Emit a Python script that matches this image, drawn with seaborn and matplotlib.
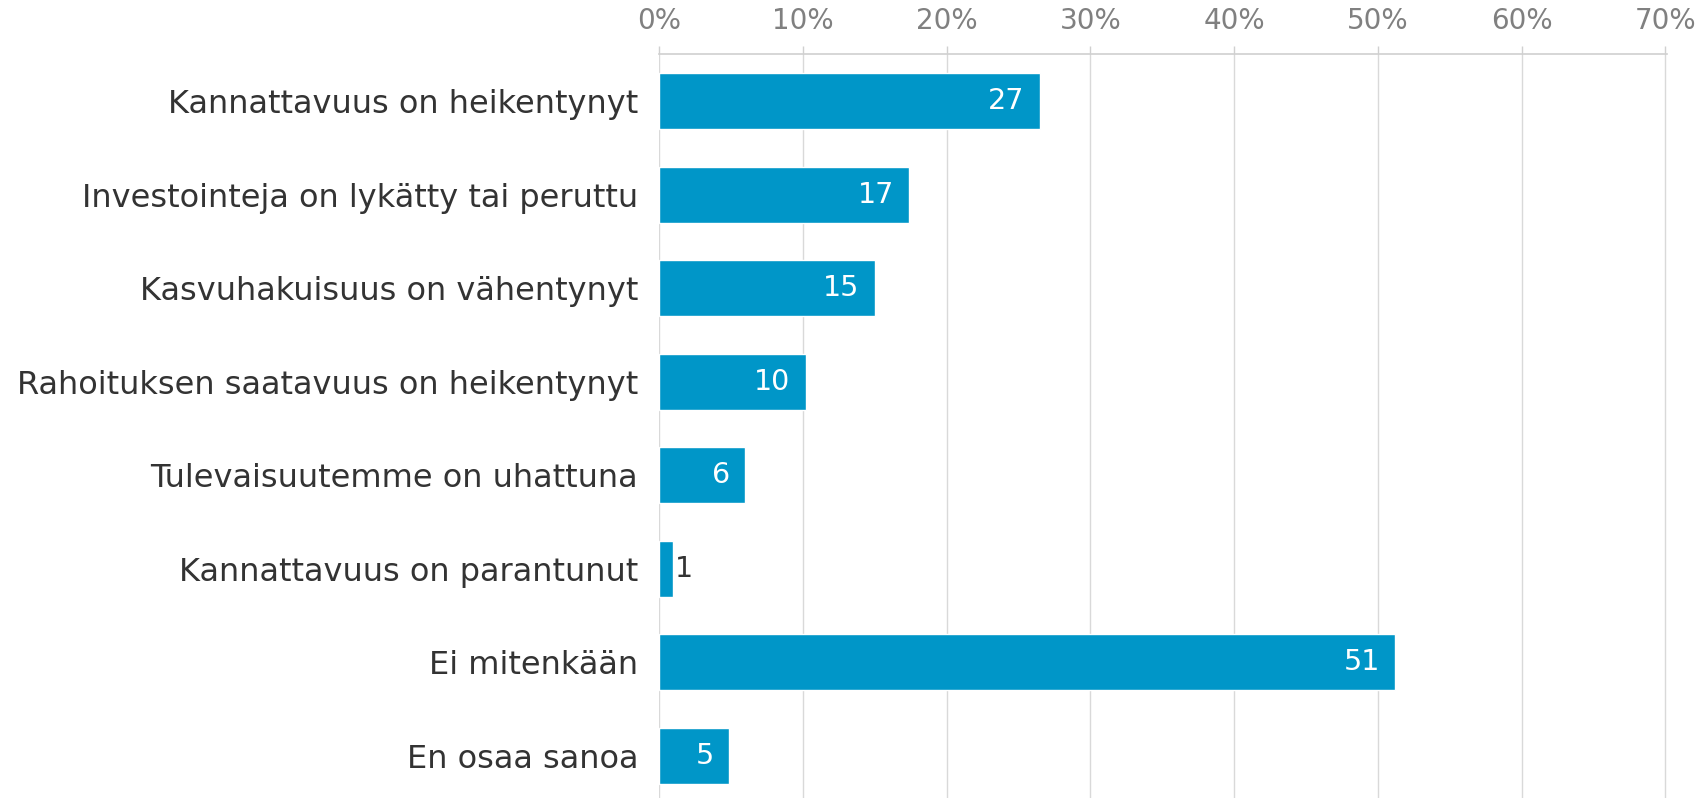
import numpy as np
import pandas as pd
import matplotlib
matplotlib.use("Agg")
import matplotlib.pyplot as plt
import seaborn as sns

# vastausvaihtoehdot ja osuudet (%)
categories = [
    "Kannattavuus on heikentynyt",
    "Investointeja on lykätty tai peruttu",
    "Kasvuhakuisuus on vähentynyt",
    "Rahoituksen saatavuus on heikentynyt",
    "Tulevaisuutemme on uhattuna",
    "Kannattavuus on parantunut",
    "Ei mitenkään",
    "En osaa sanoa",
]
shares = [26.5, 17.4, 15.0, 10.2, 6.0, 1.0, 51.2, 4.9]
labels = ["27", "17", "15", "10", "6", "1", "51", "5"]
xticks = [0, 10, 20, 30, 40, 50, 60, 70]

df = pd.DataFrame({"kat": categories, "osuus": shares})

sns.set_theme(style="white")
plt.rcParams["font.family"] = ["DejaVu Sans"]

fig = plt.figure(figsize=(17.06, 7.98), dpi=100)
ax = fig.add_axes([0.3863, 0.0, 0.5906, 0.932])

sns.barplot(data=df, x="osuus", y="kat", orient="h", color="#0096c8",
            saturation=1, width=0.6, ax=ax)

ax.set_xlim(0, 70.08)
ax.set_ylim(7.45, -0.5)
ax.set_xticks(xticks)
ax.set_xticklabels([f"{t}%" for t in xticks])
ax.xaxis.tick_top()
ax.set_xlabel("")
ax.set_ylabel("")
ax.grid(axis="x", color="#d9d9d9", linewidth=1)
ax.set_axisbelow(True)
for s in ["left", "right", "bottom"]:
    ax.spines[s].set_visible(False)
ax.spines["top"].set_color("#d0d0d0")
ax.spines["top"].set_linewidth(1.2)
ax.tick_params(axis="x", colors="#d0d0d0", labelcolor="#808080", labelsize=20,
               length=6, width=1, pad=8, top=True, bottom=False)
ax.tick_params(axis="y", labelcolor="#333333", labelsize=23, length=0, pad=15)

for i, (v, lab) in enumerate(zip(shares, labels)):
    if v < 3:
        ax.annotate(lab, (v, i), xytext=(1, 0), textcoords="offset points",
                    ha="left", va="center", fontsize=20.5, color="#333333")
    else:
        ax.annotate(lab, (v, i), xytext=(-11, 0), textcoords="offset points",
                    ha="right", va="center", fontsize=20.5, color="white")

fig.savefig("out.png", dpi=100)
